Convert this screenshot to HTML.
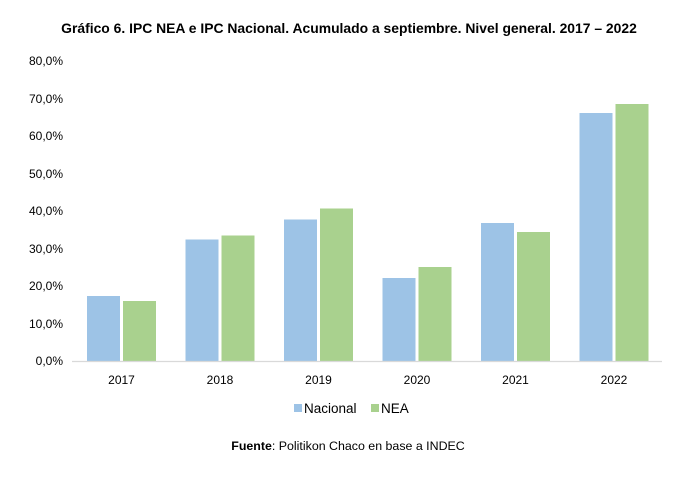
<!DOCTYPE html>
<html><head><meta charset="utf-8"><style>
body{margin:0;background:#fff;width:685px;height:480px;overflow:hidden}
text{font-family:"Liberation Sans",Arial,sans-serif;fill:#000}
</style></head><body>
<svg width="685" height="480" xmlns="http://www.w3.org/2000/svg">
<text x="349" y="33" font-size="13.9" font-weight="bold" text-anchor="middle">Gráfico 6. IPC NEA e IPC Nacional. Acumulado a septiembre. Nivel general. 2017 – 2022</text>
<g font-size="12" text-anchor="end">
<text x="63" y="65">80,0%</text>
<text x="63" y="103">70,0%</text>
<text x="63" y="140">60,0%</text>
<text x="63" y="178">50,0%</text>
<text x="63" y="215">40,0%</text>
<text x="63" y="253">30,0%</text>
<text x="63" y="290">20,0%</text>
<text x="63" y="328">10,0%</text>
<text x="63" y="365">0,0%</text>
</g>
<g fill="#9DC3E6">
<rect x="87" y="296" width="33" height="65"/>
<rect x="185.5" y="239.5" width="33" height="121.5"/>
<rect x="284" y="219.5" width="33" height="141.5"/>
<rect x="382.5" y="278" width="33" height="83"/>
<rect x="481" y="223" width="33" height="138"/>
<rect x="579.5" y="113" width="33" height="248"/>
</g>
<g fill="#A9D18E">
<rect x="123" y="301" width="33" height="60"/>
<rect x="221.5" y="235.5" width="33" height="125.5"/>
<rect x="320" y="208.5" width="33" height="152.5"/>
<rect x="418.5" y="267" width="33" height="94"/>
<rect x="517" y="232" width="33" height="129"/>
<rect x="615.5" y="104" width="33" height="257"/>
</g>
<line x1="72" y1="361.5" x2="662" y2="361.5" stroke="#d9d9d9" stroke-width="1.2"/>
<g font-size="12" text-anchor="middle">
<text x="121.5" y="384">2017</text>
<text x="220" y="384">2018</text>
<text x="318.5" y="384">2019</text>
<text x="417" y="384">2020</text>
<text x="515.5" y="384">2021</text>
<text x="614" y="384">2022</text>
</g>
<rect x="294" y="404" width="8" height="8" fill="#9DC3E6"/>
<text x="304" y="413" font-size="13.5">Nacional</text>
<rect x="371" y="404" width="8" height="8" fill="#A9D18E"/>
<text x="381" y="413" font-size="13.5">NEA</text>
<text x="348" y="450" font-size="12.4" text-anchor="middle"><tspan font-weight="bold">Fuente</tspan>: Politikon Chaco en base a INDEC</text>
</svg>
</body></html>
